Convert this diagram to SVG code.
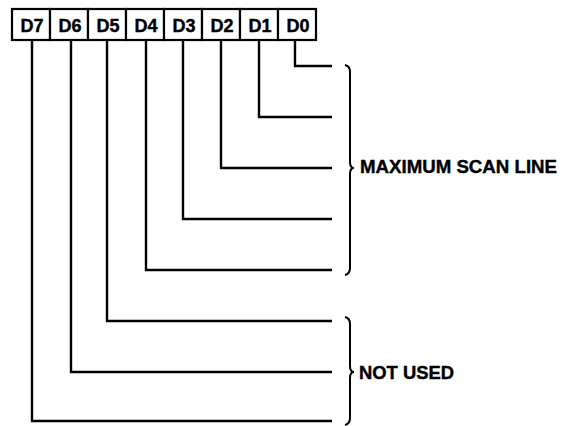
<svg xmlns="http://www.w3.org/2000/svg" width="571" height="426" viewBox="0 0 571 426">
<style>
.box{fill:#fff;stroke:#000;stroke-width:2.2}
.ln{fill:none;stroke:#000;stroke-width:2.4;stroke-linejoin:miter}
.br{fill:none;stroke:#000;stroke-width:2}
text{font-family:"Liberation Sans",Arial,sans-serif;font-weight:bold;fill:#000;stroke:#000;stroke-width:0.4}
.bit{font-size:18px;text-anchor:middle}
.lbl{font-size:18.5px}
</style>
<rect width="571" height="426" fill="#fff"/>
<g id="register">
<g id="D7"><rect class="box" x="12" y="9" width="38" height="31"/><text class="bit" x="32" y="32">D7</text></g>
<g id="D6"><rect class="box" x="50" y="9" width="38" height="31"/><text class="bit" x="70" y="32">D6</text></g>
<g id="D5"><rect class="box" x="88" y="9" width="38" height="31"/><text class="bit" x="108" y="32">D5</text></g>
<g id="D4"><rect class="box" x="126" y="9" width="38" height="31"/><text class="bit" x="146" y="32">D4</text></g>
<g id="D3"><rect class="box" x="164" y="9" width="38" height="31"/><text class="bit" x="184" y="32">D3</text></g>
<g id="D2"><rect class="box" x="202" y="9" width="38" height="31"/><text class="bit" x="222" y="32">D2</text></g>
<g id="D1"><rect class="box" x="240" y="9" width="38" height="31"/><text class="bit" x="260" y="32">D1</text></g>
<g id="D0"><rect class="box" x="278" y="9" width="38" height="31"/><text class="bit" x="298" y="32">D0</text></g>
</g>
<g id="connectors">
<path class="ln" d="M295,40 V66 H332"/>
<path class="ln" d="M259,40 V117 H332"/>
<path class="ln" d="M221,40 V168 H332"/>
<path class="ln" d="M183,40 V219 H332"/>
<path class="ln" d="M146,40 V270 H332"/>
<path class="ln" d="M107,40 V321 H332"/>
<path class="ln" d="M71,40 V372 H332"/>
<path class="ln" d="M32,40 V421 H332"/>
</g>
<g id="max-scan-line">
<path class="br" d="M345,65 Q350,66 350,72 L350,162 Q350,168 354,168 Q350,168 350,174 L350,268 Q350,274 345,275"/>
<text class="lbl" x="360" y="173" textLength="197" lengthAdjust="spacingAndGlyphs">MAXIMUM SCAN LINE</text>
</g>
<g id="not-used">
<path class="br" d="M345,317 Q350,318 350,324 L350,366 Q350,372 354,372 Q350,372 350,378 L350,418 Q350,424 345,425"/>
<text class="lbl" x="359" y="379" textLength="95" lengthAdjust="spacingAndGlyphs">NOT USED</text>
</g>
</svg>
